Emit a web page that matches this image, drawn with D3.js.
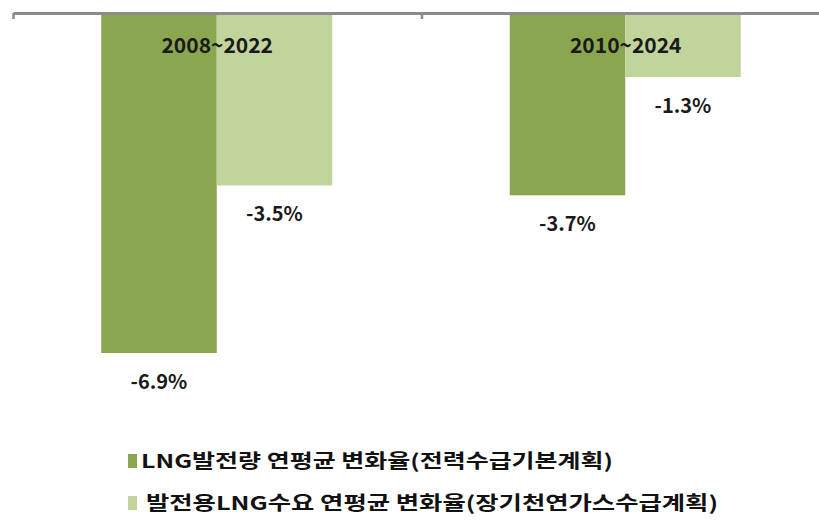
<!DOCTYPE html>
<html>
<head>
<meta charset="utf-8">
<script src="https://cdnjs.cloudflare.com/ajax/libs/d3/7.8.5/d3.min.js"></script>
<style>
  body{margin:0;background:#fff;}
  text{font-family:"Noto Sans CJK KR","Noto Sans",sans-serif;}
</style>
</head>
<body>
<svg class="graph"></svg>
<script>
let width=819, height=522
let categories=['2008~2022','2010~2024']
let seriesNames=['LNG발전량 연평균 변화율(전력수급기본계획)','발전용LNG수요 연평균 변화율(장기천연가스수급계획)']
let powerGen=[-6.9,-3.7]
let gasDemand=[-3.5,-1.3]
let colors=['#8aa64f','#c0d49c']

let svg=d3.select('.graph').attr('width',width).attr('height',height)

// categories span 13 -> 830 (right edge runs off the picture)
let xpos=d3.scaleLinear().domain([0,categories.length]).range([13,830])
let xband=d3.scaleBand().domain(categories).range([13,830]).paddingInner(0).paddingOuter(0)
let xinner=d3.scaleBand().domain([0,1]).range([0,231]).padding(0)
let yscale=d3.scaleLinear().domain([0,-6.9]).range([13,353])

let data=categories.map((c,i)=>({cat:c,values:[powerGen[i],gasDemand[i]]}))

let groups=svg.selectAll('.grp')
  .data(data)
  .join('g')
  .attr('class','grp')
  .attr('transform',d=>`translate(${xband(d.cat)+(xband.bandwidth()-231)/2-0.5},0)`)

groups.selectAll('rect')
  .data(d=>d.values.map((v,k)=>({k:k,v:v})))
  .join('rect')
  .attr('x',d=>xinner(d.k))
  .attr('y',yscale(0))
  .attr('width',xinner.bandwidth())
  .attr('height',d=>yscale(d.v)-yscale(0))
  .attr('fill',d=>colors[d.k])

// value labels under the bars
groups.selectAll('.val')
  .data(d=>d.values.map((v,k)=>({k:k,v:v})))
  .join('text')
  .attr('class','val')
  .attr('x',d=>xinner(d.k)+xinner.bandwidth()/2)
  .attr('y',d=>yscale(d.v)+36)
  .attr('text-anchor','middle')
  .style('font-size','20px')
  .style('font-weight','bold')
  .style('fill','#1a1a1a')
  .text(d=>d.v.toFixed(1)+'%')

// axis along zero
let xaxis=svg.append('g').attr('transform',`translate(0,${yscale(0)})`)
  .call(d3.axisBottom(xpos).tickValues(d3.range(categories.length+1)).tickSize(6).tickSizeOuter(0).tickFormat(''))
xaxis.select('.domain').attr('stroke','#8c8c8c').attr('stroke-width',3)
xaxis.selectAll('.tick line').attr('stroke','#8c8c8c').attr('stroke-width',2.5)

// category labels inside the bars
svg.selectAll('.catlabel')
  .data(categories)
  .join('text')
  .attr('class','catlabel')
  .attr('x',d=>xband(d)+xband.bandwidth()/2)
  .attr('y',53)
  .attr('text-anchor','middle')
  .style('font-size','21px')
  .style('font-weight','bold')
  .style('fill','#1a1a1a')
  .text(d=>d)

// legend
let lgd=svg.selectAll('.lgd')
  .data(seriesNames)
  .join('g')
  .attr('class','lgd')
  .attr('transform',(d,i)=>`translate(128,${461+i*42})`)
lgd.append('rect')
  .attr('x',0).attr('y',-7)
  .attr('width',9).attr('height',14)
  .attr('fill',(d,i)=>colors[i])
lgd.append('text')
  .attr('x',(d,i)=>i==0?13:18)
  .attr('y',7)
  .style('font-size','19px')
  .style('font-weight','bold')
  .style('fill','#111')
  .attr('textLength',(d,i)=>i==0?472:572)
  .attr('lengthAdjust','spacingAndGlyphs')
  .text(d=>d)
</script>
</body>
</html>
